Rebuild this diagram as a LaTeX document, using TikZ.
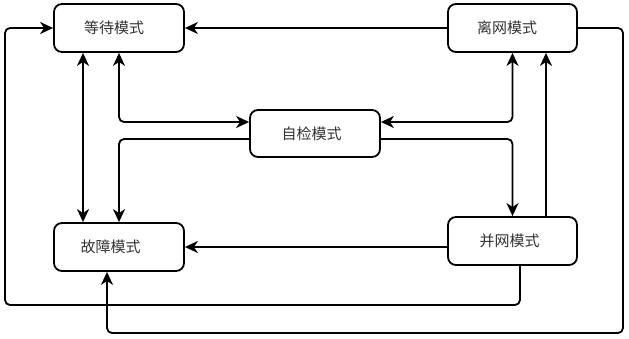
\documentclass[tikz,border=0pt]{standalone}
\usepackage{fontspec}
\newfontfamily\cjk{Noto Sans CJK SC}
\usetikzlibrary{arrows.meta,calc}
\definecolor{txt}{HTML}{333333}
\tikzset{
  modebox/.style={draw=black, line width=1.8pt, rounded corners=8pt, fill=white,
    minimum width=130pt, minimum height=48pt, inner sep=0pt,
    font=\cjk\fontsize{15pt}{17pt}\selectfont, text=txt},
  conn/.style={line width=1.8pt, rounded corners=5pt},
  arr/.style={conn, -{Stealth[length=13pt,width=12pt,inset=4pt]}},
  arrtwo/.style={conn, {Stealth[length=13pt,width=12pt,inset=4pt]}-{Stealth[length=13pt,width=12pt,inset=4pt]}}
}
\begin{document}
\begin{tikzpicture}[x=1pt,y=-1pt]
\useasboundingbox (0,0) rectangle (629,338);
\node[modebox] (wait)  at (119,28)    {等待模式\kern10pt};
\node[modebox, minimum width=129pt] (offg) at (512.5,28) {离网模式\kern11pt};
\node[modebox, minimum height=47pt] (self) at (315,133.5) {自检模式\kern7pt};
\node[modebox] (fault) at (119,247)   {故障模式\kern17pt};
\node[modebox, minimum width=129pt] (grid) at (512.5,241) {并网模式\kern6pt};
\coordinate (lb) at (5,305);
\coordinate (rb) at (623,333);
% grid -> wait (outer left loop)
\draw[arr] ([xshift=7.5pt]grid.south) |- (lb) |- (wait.west);
% offgrid -> wait
\draw[arr] (offg.west) -- (wait.east);
% offgrid -> fault (outer right loop)
\draw[arr] (offg.east) -| (rb) -| ([xshift=-12pt]fault.south);
% wait <-> fault
\draw[arrtwo] ([xshift=-36pt]wait.south) -- ([xshift=-36pt]fault.north);
% wait <-> self
\draw[arrtwo] (wait.south) |- ([yshift=11.5pt]self.west);
% self -> fault
\draw[arr] ([yshift=-5.5pt]self.west) -| (fault.north);
% offgrid <-> self
\draw[arrtwo] (offg.south) |- ([yshift=11.5pt]self.east);
% self -> grid
\draw[arr] ([yshift=-5.5pt]self.east) -| (grid.north);
% grid -> offgrid
\draw[arr] ([xshift=33.5pt]grid.north) -- ([xshift=33.5pt]offg.south);
% grid -> fault
\draw[arr] (grid.west |- fault.center) -- (fault.east);
\end{tikzpicture}
\end{document}
